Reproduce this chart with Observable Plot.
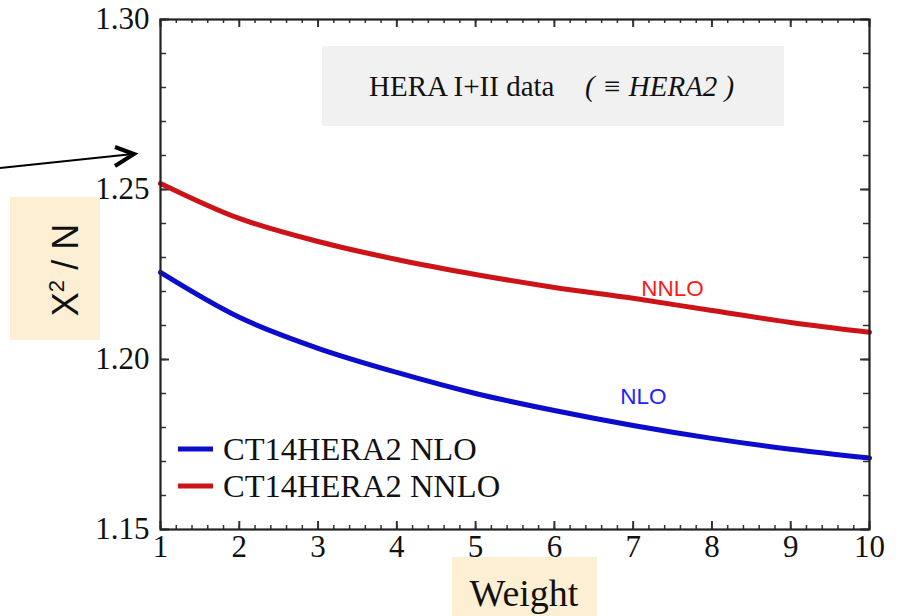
<!DOCTYPE html>
<html>
<head>
<meta charset="utf-8">
<script src="https://cdn.jsdelivr.net/npm/d3@7"></script>
<script src="https://cdn.jsdelivr.net/npm/@observablehq/plot@0.6"></script>
<style>
  html, body { margin: 0; padding: 0; background: #fff; }
</style>
</head>
<body>
<div id="chart"></div>
<script>
// ---- data ----
const weights = [1, 2, 3, 4, 5, 6, 7, 8, 9, 10];
const nloChi2 = [1.2256, 1.2124, 1.2033, 1.1962, 1.1900, 1.1850, 1.1806, 1.1768, 1.1736, 1.1710];
const nnloChi2 = [1.2518, 1.2415, 1.2347, 1.2294, 1.2250, 1.2212, 1.2180, 1.2144, 1.2109, 1.2080];
const seriesNames = ["CT14HERA2 NLO", "CT14HERA2 NNLO"];
const seriesColors = ["#0c0ccc", "#cc1418"];
const xTicks = [1, 2, 3, 4, 5, 6, 7, 8, 9, 10];
const yTicks = [1.15, 1.20, 1.25, 1.30];
const xMinorTicks = d3.range(1, 10.001, 0.2).map(v => +v.toFixed(2));
const yMinorTicks = d3.range(1.15, 1.3001, 0.01).map(v => +v.toFixed(2));
const curveLabels = [
  {x: 7.5, y: 1.2209, text: "NNLO", color: "#ff1a1a"},
  {x: 7.13, y: 1.1889, text: "NLO", color: "#2222ff"}
];

const rows = [];
weights.forEach((w, i) => {
  rows.push({w, v: nloChi2[i], s: seriesNames[0]});
  rows.push({w, v: nnloChi2[i], s: seriesNames[1]});
});

const W = 905, H = 616;
const mL = 160, mR = 36, mT = 19, mB = 87;
const pw = W - mL - mR, ph = H - mT - mB;
const tickStroke = "#333";
const serif = "'Liberation Serif', 'DejaVu Serif', serif";
const sans = "'Liberation Sans', Arial, sans-serif";

const plot = Plot.plot({
  width: W, height: H,
  marginLeft: mL, marginRight: mR, marginTop: mT, marginBottom: mB,
  style: {fontFamily: serif, fontSize: "31px", color: "#111", background: "#fff"},
  x: {domain: [1, 10]},
  y: {domain: [1.15, 1.30]},
  color: {domain: seriesNames, range: seriesColors},
  marks: [
    // minor and major ticks (inward) on all four sides
    Plot.tickX(xMinorTicks, {x: d => d, insetTop: ph - 4, stroke: tickStroke, strokeWidth: 1.5}),
    Plot.tickX(xMinorTicks, {x: d => d, insetBottom: ph - 4, stroke: tickStroke, strokeWidth: 1.5}),
    Plot.tickX(xTicks, {x: d => d, insetTop: ph - 8, stroke: tickStroke, strokeWidth: 2}),
    Plot.tickX(xTicks, {x: d => d, insetBottom: ph - 8, stroke: tickStroke, strokeWidth: 2}),
    Plot.tickY(yMinorTicks, {y: d => d, insetRight: pw - 6, stroke: tickStroke, strokeWidth: 1.5}),
    Plot.tickY(yMinorTicks, {y: d => d, insetLeft: pw - 6, stroke: tickStroke, strokeWidth: 1.5}),
    Plot.tickY(yTicks, {y: d => d, insetRight: pw - 9, stroke: tickStroke, strokeWidth: 2}),
    Plot.tickY(yTicks, {y: d => d, insetLeft: pw - 9, stroke: tickStroke, strokeWidth: 2}),
    Plot.axisX({ticks: xTicks, tickSize: 0, tickPadding: 5, tickFormat: d => String(d), label: null,
      fontSize: 31, fontFamily: serif, fill: "#111"}),
    Plot.axisY({ticks: yTicks, tickSize: 0, tickPadding: 11, tickFormat: d3.format(".2f"), label: null,
      fontSize: 31, fontFamily: serif, fill: "#111"}),
    Plot.line(rows, {x: "w", y: "v", z: "s", stroke: "s", strokeWidth: 5, curve: "catmull-rom"}),
    Plot.text(curveLabels, {x: "x", y: "y", text: "text", fill: "color",
      fontFamily: sans, fontSize: 22.5}),
    Plot.frame({stroke: "#222", strokeWidth: 2.2})
  ]
});

document.getElementById("chart").appendChild(plot);

// ---- overlay annotations (layout items) ----
const svg = d3.select(plot);

// dataset box
svg.append("rect").attr("x", 322).attr("y", 46).attr("width", 462).attr("height", 80).attr("fill", "#f1f1f1");
svg.append("text").attr("x", 369).attr("y", 96).attr("text-anchor", "start")
  .attr("font-family", serif).attr("font-size", 29).attr("fill", "#111").text("HERA I+II data");
svg.append("text").attr("x", 585).attr("y", 96).attr("text-anchor", "start")
  .attr("font-family", serif).attr("font-size", 29).attr("font-style", "italic").attr("fill", "#111")
  .text("( \u2261 HERA2 )");

// legend
seriesNames.forEach((name, i) => {
  const y = 449 + i * 37;
  svg.append("line").attr("x1", 178).attr("x2", 213).attr("y1", y).attr("y2", y)
    .attr("stroke", seriesColors[i]).attr("stroke-width", 5);
  svg.append("text").attr("x", 223).attr("y", y + 11).attr("text-anchor", "start")
    .attr("font-family", serif).attr("font-size", 32.5).attr("fill", "#111").text(name);
});

// y-axis label box
svg.append("rect").attr("x", 10).attr("y", 197).attr("width", 90).attr("height", 143).attr("fill", "#fdefd3");
const yl = svg.append("text").attr("transform", "translate(78,270) rotate(-90)")
  .attr("text-anchor", "middle").attr("font-family", sans).attr("font-size", 36).attr("fill", "#111");
yl.append("tspan").text("X");
yl.append("tspan").attr("dy", -14).attr("font-size", 22).text("2");
yl.append("tspan").attr("dy", 14).text(" / N");

// x-axis label box
svg.append("rect").attr("x", 452).attr("y", 557).attr("width", 145).attr("height", 59).attr("fill", "#fdefd3");
svg.append("text").attr("x", 524).attr("y", 606).attr("text-anchor", "middle")
  .attr("font-family", serif).attr("font-size", 38).attr("fill", "#111").text("Weight");

// arrow
svg.append("line").attr("x1", 0).attr("y1", 168).attr("x2", 133).attr("y2", 154)
  .attr("stroke", "#000").attr("stroke-width", 2);
svg.append("polyline").attr("points", "115,147 134,154 115,166")
  .attr("fill", "none").attr("stroke", "#000").attr("stroke-width", 4).attr("stroke-linejoin", "miter");
</script>
</body>
</html>
